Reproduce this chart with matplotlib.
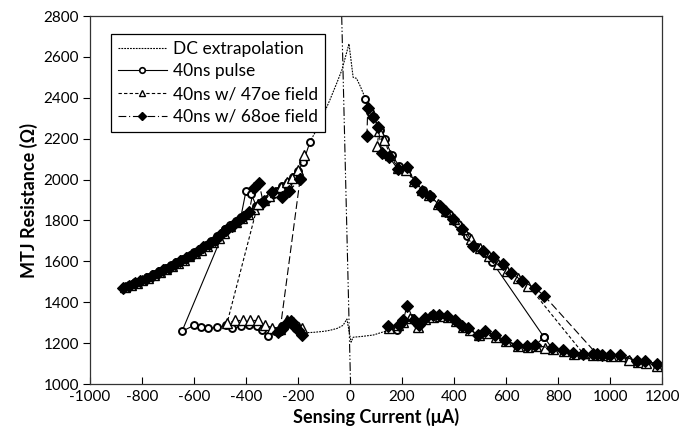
import numpy as np
import matplotlib
matplotlib.use("Agg")
import matplotlib.pyplot as plt
from matplotlib.lines import Line2D

plt.rcParams['font.family'] = ['Lato', 'DejaVu Sans']
plt.rcParams['axes.unicode_minus'] = False

# ---------------- data (µA, Ω) ----------------
# 40ns pulse (open circles, solid)
p40_ul_x = [-870, -848, -825, -803, -780, -758, -735, -713, -690, -668, -645, -623, -600, -578, -555, -533, -510, -481, -460, -440, -420, -400, -380, -360, -340, -320, -300, -280, -260, -240, -220, -200, -180, -154]
p40_ul_r = [1476, 1486, 1498, 1510, 1524, 1538, 1551, 1566, 1582, 1596, 1612, 1628, 1645, 1662, 1682, 1700, 1722, 1759, 1778, 1796, 1815, 1944, 1930, 1870, 1890, 1905, 1925, 1946, 1968, 1990, 2014, 2040, 2085, 2184]
p40_ll_x = [-481, -646, -600, -573, -546, -512, -477, -454, -419, -388, -358, -338, -315, -288, -262, -238, -208, -185]
p40_ll_r = [1759, 1258, 1287, 1277, 1272, 1277, 1287, 1272, 1282, 1287, 1282, 1263, 1233, 1258, 1282, 1306, 1287, 1248]
p40_ur_x = [58, 75, 93, 115, 135, 160, 190, 220, 250, 280, 310, 345, 380, 415, 450, 490, 520, 546, 746]
p40_ur_r = [2396, 2330, 2304, 2245, 2197, 2120, 2065, 2050, 1990, 1948, 1918, 1873, 1830, 1785, 1725, 1672, 1640, 1598, 1229]
p40_lr_x = [147, 180, 200, 240, 262, 288, 315, 340, 373, 404, 430, 454, 492, 519, 558, 596, 642, 681, 712, 746, 777, 819, 858, 896, 935, 969, 1000, 1038, 1070, 1104, 1135, 1181]
p40_lr_r = [1282, 1263, 1300, 1321, 1287, 1321, 1336, 1330, 1325, 1311, 1285, 1272, 1238, 1258, 1238, 1214, 1190, 1185, 1190, 1229, 1175, 1165, 1151, 1146, 1146, 1141, 1141, 1138, 1120, 1108, 1106, 1092]

# 40ns w/ 47oe field (open triangles, short dash)
f47_ul_x = [-866, -843, -820, -798, -775, -752, -730, -708, -685, -662, -640, -618, -595, -572, -550, -528, -505, -483, -460, -438, -415, -392, -370, -354, -332, -310, -288, -266, -244, -222, -200, -178]
f47_ul_r = [1473, 1485, 1496, 1508, 1521, 1535, 1549, 1563, 1578, 1593, 1608, 1624, 1640, 1658, 1676, 1696, 1716, 1740, 1772, 1792, 1812, 1833, 1855, 1880, 1898, 1918, 1940, 1962, 1986, 2010, 2045, 2120]
f47_ll_x = [-354, -473, -442, -411, -385, -354, -327, -300, -270, -242, -219, -185]
f47_ll_r = [1880, 1297, 1311, 1311, 1311, 1311, 1290, 1275, 1270, 1311, 1306, 1272]
f47_ur_x = [104, 112, 130, 155, 185, 215, 245, 275, 305, 340, 370, 400, 435, 465, 500, 535, 570, 605, 645, 685, 896]
f47_ur_r = [2163, 2240, 2195, 2120, 2055, 2045, 1995, 1950, 1925, 1880, 1845, 1805, 1760, 1710, 1665, 1625, 1585, 1555, 1520, 1482, 1150]
f47_lr_x = [150, 185, 205, 231, 262, 290, 318, 345, 375, 406, 436, 460, 495, 525, 560, 600, 645, 685, 715, 750, 780, 822, 860, 896, 935, 970, 1002, 1040, 1072, 1106, 1138, 1181]
f47_lr_r = [1275, 1290, 1305, 1321, 1280, 1318, 1330, 1332, 1326, 1308, 1280, 1265, 1240, 1250, 1232, 1210, 1188, 1182, 1186, 1178, 1170, 1160, 1148, 1150, 1143, 1140, 1139, 1137, 1118, 1106, 1104, 1090]

# 40ns w/ 68oe field (filled diamonds, long dash)
f68_ul_x = [-872, -850, -828, -806, -784, -762, -740, -718, -696, -674, -652, -630, -608, -586, -564, -542, -520, -498, -476, -454, -432, -410, -388, -370, -350, -334, -300, -262, -235, -192]
f68_ul_r = [1470, 1480, 1492, 1504, 1516, 1529, 1542, 1556, 1570, 1585, 1600, 1616, 1632, 1650, 1668, 1686, 1706, 1728, 1752, 1775, 1796, 1818, 1840, 1960, 1985, 1890, 1940, 1915, 1944, 2002]
f68_ll_x = [-192, -269, -277, -260, -242, -228, -215, -200, -185]
f68_ll_r = [2002, 1263, 1255, 1270, 1300, 1310, 1285, 1262, 1240]
f68_ur_x = [65, 68, 90, 108, 123, 150, 185, 219, 250, 277, 308, 346, 365, 396, 431, 473, 512, 550, 588, 620, 660, 710, 746, 950]
f68_ur_r = [2211, 2350, 2305, 2255, 2130, 2110, 2050, 2060, 1990, 1939, 1919, 1871, 1846, 1808, 1759, 1676, 1652, 1623, 1589, 1545, 1505, 1470, 1433, 1145]
f68_lr_x = [147, 190, 205, 219, 245, 265, 290, 318, 342, 372, 404, 432, 454, 492, 519, 558, 596, 642, 681, 712, 777, 819, 858, 896, 935, 969, 1000, 1038, 1104, 1135, 1181]
f68_lr_r = [1282, 1290, 1311, 1384, 1315, 1287, 1321, 1336, 1338, 1331, 1311, 1285, 1272, 1238, 1258, 1238, 1214, 1190, 1185, 1190, 1175, 1165, 1151, 1146, 1146, 1141, 1141, 1141, 1112, 1112, 1100]

# DC extrapolation (high and low state)
dc_hi_x = [-154, -120, -77, -50, -31, -4, 12, 25, 40, 58]
dc_hi_r = [2184, 2265, 2391, 2475, 2537, 2664, 2500, 2495, 2455, 2400]
dc_lo_x = [-185, -140, -100, -77, -50, -27, -12, 4, 12, 46, 90, 135, 147]
dc_lo_r = [1250, 1253, 1258, 1263, 1272, 1287, 1318, 1205, 1229, 1233, 1240, 1258, 1282]

# near-vertical dash-dot line
vline_x = [-32, 2]
vline_r = [2800, 1000]

xticks = list(range(-1000, 1201, 200))
yticks = list(range(1000, 2801, 200))


def join(*segs):
    xs, ys = [], []
    for sx, sy in segs:
        if xs:
            xs.append(np.nan)
            ys.append(np.nan)
        xs.extend(sx)
        ys.extend(sy)
    return np.array(xs, float), np.array(ys, float)


fig = plt.figure(figsize=(6.97, 4.33), dpi=100)
ax = fig.add_axes([0.129, 0.113, 0.821, 0.850])

lw = 0.8
dc_dash = (1.6, 1.0)
d47 = (3, 2)
d68 = (7, 3)

# DC extrapolation
dx, dy = join((dc_hi_x, dc_hi_r), (dc_lo_x, dc_lo_r))
ax.plot(dx, dy, color='black', lw=lw, dashes=dc_dash)
# vertical dash-dot line
ax.plot(vline_x, vline_r, color='black', lw=lw, dashes=(8, 2, 1.2, 2, 1.2, 2))

# 40ns pulse
x, y = join((p40_ul_x, p40_ul_r), (p40_ll_x, p40_ll_r), (p40_ur_x, p40_ur_r), (p40_lr_x, p40_lr_r))
ax.plot(x, y, color='black', lw=lw, ls='-', marker='o', ms=5, mfc='white', mec='black', mew=1.4)
# 47oe
x, y = join((f47_ul_x, f47_ul_r), (f47_ll_x, f47_ll_r), (f47_ur_x, f47_ur_r), (f47_lr_x, f47_lr_r))
ax.plot(x, y, color='black', lw=lw, dashes=d47, marker='^', ms=6.5, mfc='white', mec='black', mew=1.0)
# 68oe
x, y = join((f68_ul_x, f68_ul_r), (f68_ll_x, f68_ll_r), (f68_ur_x, f68_ur_r), (f68_lr_x, f68_lr_r))
ax.plot(x, y, color='black', lw=lw, dashes=d68, marker='D', ms=6, mfc='black', mec='black', mew=0.8)

ax.set_xlim(-1000, 1200)
ax.set_ylim(1000, 2800)
ax.set_xticks(xticks)
ax.set_yticks(yticks)
ax.tick_params(axis='x', direction='in', length=5, width=0.8, labelsize=11, pad=4)
ax.tick_params(axis='y', direction='out', length=5, width=0.8, labelsize=11, pad=3)
for s in ax.spines.values():
    s.set_linewidth(0.9)
    s.set_color('#333333')

ax.set_xlabel('Sensing Current (\u03bcA)', fontsize=13, fontweight='bold', labelpad=3)
ax.set_ylabel('MTJ Resistance (\u03a9)', fontsize=13, fontweight='bold', labelpad=4)

handles = [
    Line2D([], [], color='black', lw=lw, dashes=dc_dash),
    Line2D([], [], color='black', lw=lw, ls='-', marker='o', ms=4, mfc='white', mec='black', mew=1.2),
    Line2D([], [], color='black', lw=lw, dashes=(3, 2), marker='^', ms=5, mfc='white', mec='black', mew=1.0),
    Line2D([], [], color='black', lw=lw, dashes=(7, 2.5, 1, 2.5), marker='D', ms=4.5, mfc='black', mec='black'),
]
labels = ['DC extrapolation', '40ns pulse', '40ns w/ 47oe field', '40ns w/ 68oe field']
leg = ax.legend(handles, labels, loc='upper left', bbox_to_anchor=(0.022, 0.975), fontsize=12.5,
                frameon=True, fancybox=False, edgecolor='black', framealpha=1,
                handlelength=2.8, handletextpad=0.35, labelspacing=0.38, borderpad=0.4)
leg.get_frame().set_linewidth(0.9)

fig.savefig('out.png', dpi=100)
